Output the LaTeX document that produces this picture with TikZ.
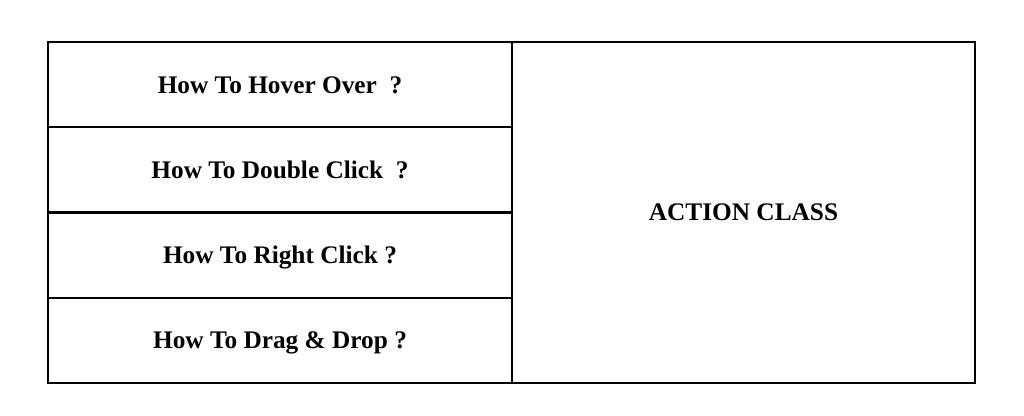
\documentclass[tikz,border=0pt]{standalone}
\usepackage{fontspec}
\setmainfont{Liberation Serif}
\usetikzlibrary{positioning}

\tikzset{
	cellbox/.style={draw,line width=1.4pt,minimum width=464*0.025cm,minimum height=85.25*0.025cm,inner sep=0pt,text height=1.2em,text depth=0pt,font=\fontsize{18}{21}\selectfont\bfseries},
	classbox/.style={draw,line width=1.4pt,minimum width=463*0.025cm,minimum height=341*0.025cm,inner sep=0pt,font=\fontsize{18}{21}\selectfont\bfseries}
}

\begin{document}
\begin{tikzpicture}[x=0.025cm,y=-0.025cm]
	
	\useasboundingbox (0,0) rectangle (1024,415);
	
	\node[cellbox] (hover) at (280,84.6) {How To Hover Over~~?};
	\node[cellbox] (double) at (280,169.9) {How To Double Click~~?};
	\node[cellbox] (right) at (280,255.1) {How To Right Click ?};
	\node[cellbox] (drag) at (280,340.4) {How To Drag \& Drop ?};
	
	\node[classbox] (action) at (743.5,212.5) {ACTION CLASS};
	
\end{tikzpicture}
\end{document}
